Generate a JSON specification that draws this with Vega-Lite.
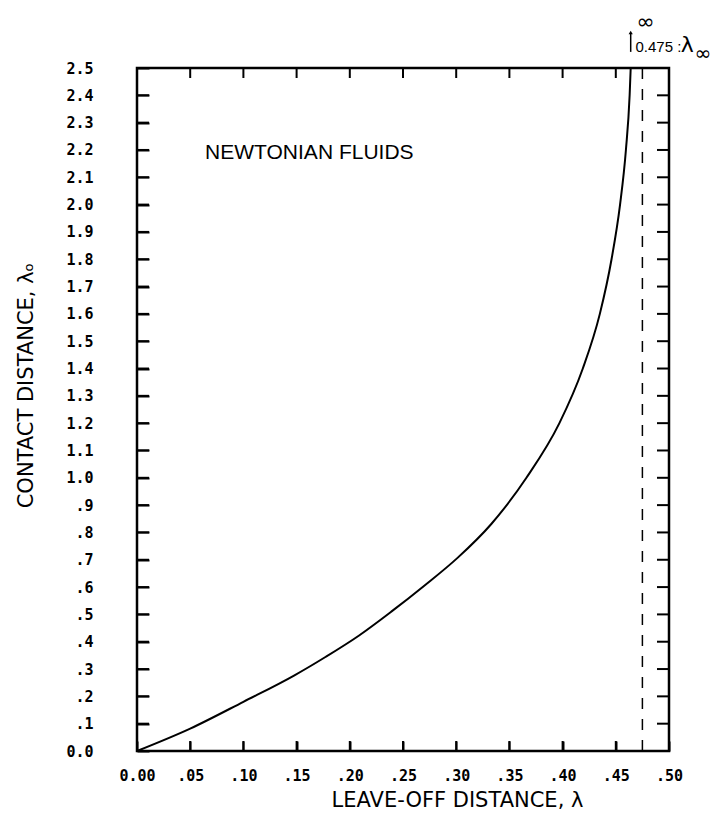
{
  "$schema": "https://vega.github.io/schema/vega-lite/v6.json",
  "autosize": "none",
  "padding": {"left": 137, "top": 68, "right": 49, "bottom": 67},
  "width": 532,
  "height": 683,
  "background": "white",
  "config": {
    "view": {"stroke": "black", "strokeWidth": 2.5},
    "axis": {"domain": false, "grid": false, "labelFlush": false, "labelOverlap": false, "labelFont": "DejaVu Sans Mono", "labelFontSize": 15, "labelFontWeight": "bold", "labelColor": "black", "titleFont": "DejaVu Sans", "titleFontWeight": "normal", "titleFontSize": 21, "titleColor": "black", "tickColor": "black", "tickWidth": 2, "tickOpacity": 1}
  },
  "datasets": {
    "curve": [
      {"lam": 0.0, "lam0": 0.0},
      {"lam": 0.05, "lam0": 0.082},
      {"lam": 0.10, "lam0": 0.18},
      {"lam": 0.148, "lam0": 0.277},
      {"lam": 0.1775, "lam0": 0.345},
      {"lam": 0.2084, "lam0": 0.422},
      {"lam": 0.239, "lam0": 0.51},
      {"lam": 0.27, "lam0": 0.605},
      {"lam": 0.301, "lam0": 0.706},
      {"lam": 0.333, "lam0": 0.831},
      {"lam": 0.366, "lam0": 1.0},
      {"lam": 0.397, "lam0": 1.2},
      {"lam": 0.419, "lam0": 1.4},
      {"lam": 0.435, "lam0": 1.6},
      {"lam": 0.446, "lam0": 1.8},
      {"lam": 0.454, "lam0": 2.0},
      {"lam": 0.4595, "lam0": 2.2},
      {"lam": 0.463, "lam0": 2.4},
      {"lam": 0.464, "lam0": 2.5}
    ],
    "one": [{}]
  },
  "resolve": {"axis": {"x": "independent", "y": "independent"}},
  "layer": [
    {
      "data": {"name": "curve"},
      "mark": {"type": "line", "color": "black", "strokeWidth": 2, "interpolate": "monotone"},
      "encoding": {
        "x": {"field": "lam", "type": "quantitative", "scale": {"domain": [0, 0.5], "nice": false, "zero": false},
          "axis": {"orient": "bottom", "title": "LEAVE-OFF DISTANCE, λ", "values": [0, 0.05, 0.1, 0.15, 0.2, 0.25, 0.3, 0.35, 0.4, 0.45, 0.5],
            "offset": -10, "ticks": true, "tickSize": 10, "labelPadding": 17, "labelExpr": "datum.value == 0 ? '0.00' : replace(format(datum.value, '.2f'), '0.', '.')",
            "titleX": 320, "titleY": 59, "titleBaseline": "middle", "titleAnchor": "middle"}},
        "y": {"field": "lam0", "type": "quantitative", "scale": {"domain": [0, 2.5], "nice": false, "zero": false},
          "axis": {"orient": "left", "title": "CONTACT DISTANCE, λₒ", "values": [0, 0.1, 0.2, 0.3, 0.4, 0.5, 0.6, 0.7, 0.8, 0.9, 1.0, 1.1, 1.2, 1.3, 1.4, 1.5, 1.6, 1.7, 1.8, 1.9, 2.0, 2.1, 2.2, 2.3, 2.4, 2.5],
            "offset": -12, "ticks": true, "tickSize": 12, "labelPadding": 44, "labelExpr": "datum.value == 0 ? '0.0' : (datum.value < 0.95 ? replace(format(datum.value, '.1f'), '0.', '.') : format(datum.value, '.1f'))",
            "titleX": -123, "titleY": 317, "titleBaseline": "middle", "titleAngle": -90, "titleAnchor": "middle"}}
      }
    },
    {
      "data": {"values": [{"t": 0.1}, {"t": 0.2}, {"t": 0.3}, {"t": 0.4}, {"t": 0.5}, {"t": 0.6}, {"t": 0.7}, {"t": 0.8}, {"t": 0.9}, {"t": 1.0}, {"t": 1.1}, {"t": 1.2}, {"t": 1.3}, {"t": 1.4}, {"t": 1.5}, {"t": 1.6}, {"t": 1.7}, {"t": 1.8}, {"t": 1.9}, {"t": 2.0}, {"t": 2.1}, {"t": 2.2}, {"t": 2.3}, {"t": 2.4}]},
      "mark": {"type": "rule", "stroke": "#000000", "strokeWidth": 2, "strokeOpacity": 1},
      "encoding": {"y": {"field": "t", "type": "quantitative", "axis": null}, "x": {"datum": 0, "type": "quantitative", "axis": null}, "x2": {"datum": 0.0113}}
    },
    {
      "data": {"values": [{"t": 0.1}, {"t": 0.2}, {"t": 0.3}, {"t": 0.4}, {"t": 0.5}, {"t": 0.6}, {"t": 0.7}, {"t": 0.8}, {"t": 0.9}, {"t": 1.0}, {"t": 1.1}, {"t": 1.2}, {"t": 1.3}, {"t": 1.4}, {"t": 1.5}, {"t": 1.6}, {"t": 1.7}, {"t": 1.8}, {"t": 1.9}, {"t": 2.0}, {"t": 2.1}, {"t": 2.2}, {"t": 2.3}, {"t": 2.4}]},
      "mark": {"type": "rule", "stroke": "#000000", "strokeWidth": 2, "strokeOpacity": 1},
      "encoding": {"y": {"field": "t", "type": "quantitative", "axis": null}, "x": {"datum": 0.4887, "type": "quantitative", "axis": null}, "x2": {"datum": 0.5}}
    },
    {
      "data": {"values": [{"t": 0.05}, {"t": 0.1}, {"t": 0.15}, {"t": 0.2}, {"t": 0.25}, {"t": 0.3}, {"t": 0.35}, {"t": 0.4}, {"t": 0.45}]},
      "mark": {"type": "rule", "stroke": "#000000", "strokeWidth": 2, "strokeOpacity": 1},
      "encoding": {"x": {"field": "t", "type": "quantitative", "axis": null}, "y": {"datum": 0, "type": "quantitative", "axis": null}, "y2": {"datum": 0.0366}}
    },
    {
      "data": {"values": [{"t": 0.05}, {"t": 0.1}, {"t": 0.15}, {"t": 0.2}, {"t": 0.25}, {"t": 0.3}, {"t": 0.35}, {"t": 0.4}, {"t": 0.45}]},
      "mark": {"type": "rule", "stroke": "#000000", "strokeWidth": 2, "strokeOpacity": 1},
      "encoding": {"x": {"field": "t", "type": "quantitative", "axis": null}, "y": {"datum": 2.4634, "type": "quantitative", "axis": null}, "y2": {"datum": 2.5}}
    },
    {
      "data": {"name": "one"},
      "mark": {"type": "rule", "color": "black", "strokeWidth": 1.5, "strokeDash": [11, 10]},
      "encoding": {"x": {"datum": 0.475, "axis": null}, "y": {"datum": 0, "axis": null}, "y2": {"datum": 2.5}}
    },
    {
      "data": {"name": "one"},
      "mark": {"type": "rule", "color": "black", "strokeWidth": 1.5},
      "encoding": {"x": {"datum": 0.464, "axis": null}, "y": {"datum": 2.559, "axis": null}, "y2": {"datum": 2.628}}
    },
    {
      "data": {"name": "one"},
      "mark": {"type": "point", "shape": "triangle-up", "filled": true, "color": "black", "size": 18, "opacity": 1},
      "encoding": {"x": {"datum": 0.464, "axis": null}, "y": {"datum": 2.63, "axis": null}}
    },
    {
      "data": {"name": "one"},
      "mark": {"type": "text", "text": "∞", "font": "DejaVu Sans", "fontSize": 22, "align": "center", "baseline": "middle", "color": "black"},
      "encoding": {"x": {"datum": 0.478, "axis": null}, "y": {"datum": 2.667, "axis": null}}
    },
    {
      "data": {"name": "one"},
      "mark": {"type": "text", "text": "0.475 :", "font": "Liberation Sans", "fontSize": 15, "align": "left", "baseline": "middle", "color": "black"},
      "encoding": {"x": {"datum": 0.4685, "axis": null}, "y": {"datum": 2.577, "axis": null}}
    },
    {
      "data": {"name": "one"},
      "mark": {"type": "text", "text": "λ", "font": "DejaVu Sans", "fontSize": 22, "align": "left", "baseline": "middle", "color": "black"},
      "encoding": {"x": {"datum": 0.511, "axis": null}, "y": {"datum": 2.584, "axis": null}}
    },
    {
      "data": {"name": "one"},
      "mark": {"type": "text", "text": "∞", "font": "DejaVu Sans", "fontSize": 20, "align": "left", "baseline": "middle", "color": "black"},
      "encoding": {"x": {"datum": 0.524, "axis": null}, "y": {"datum": 2.55, "axis": null}}
    },
    {
      "data": {"name": "one"},
      "mark": {"type": "text", "text": "NEWTONIAN FLUIDS", "font": "Liberation Sans", "fontSize": 21, "align": "left", "baseline": "middle", "color": "black"},
      "encoding": {"x": {"datum": 0.064, "axis": null}, "y": {"datum": 2.19, "axis": null}}
    }
  ]
}
